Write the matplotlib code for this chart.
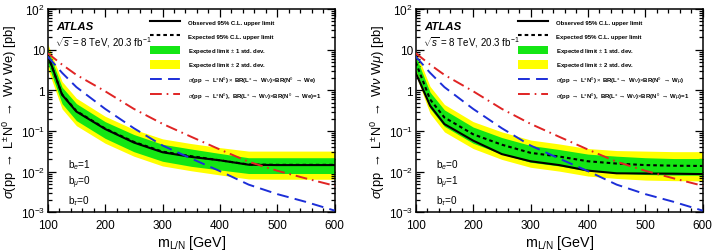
import math
import matplotlib
matplotlib.use("Agg")
import matplotlib.pyplot as plt
from matplotlib.lines import Line2D
from matplotlib.patches import Patch
from matplotlib.ticker import FixedLocator, MultipleLocator, FuncFormatter, LogLocator, NullFormatter

plt.rcParams['font.family'] = ['Liberation Sans', 'DejaVu Sans']
plt.rcParams['mathtext.fontset'] = 'custom'
plt.rcParams['mathtext.rm'] = 'Liberation Sans'
plt.rcParams['mathtext.it'] = 'Liberation Sans:italic'
plt.rcParams['mathtext.bf'] = 'Liberation Sans:bold'
plt.rcParams['mathtext.sf'] = 'Liberation Sans'
plt.rcParams['lines.scale_dashes'] = False

# ---------------- data ----------------
mass = [100, 125, 150, 200, 250, 300, 350, 400, 450, 500, 550, 600]

# electron channel (b_e = 1)
obs_e = [7.6, 0.78, 0.30, 0.112, 0.052, 0.030, 0.023, 0.019, 0.0148, 0.0145, 0.0145, 0.0145]
exp_e = [7.2, 0.80, 0.31, 0.115, 0.054, 0.031, 0.024, 0.019, 0.0150, 0.0147, 0.0147, 0.0147]
s1_hi_e = [10.5, 1.20, 0.47, 0.17, 0.082, 0.047, 0.036, 0.028, 0.022, 0.022, 0.022, 0.022]
s1_lo_e = [4.6, 0.47, 0.18, 0.066, 0.031, 0.018, 0.0135, 0.011, 0.0090, 0.0090, 0.0090, 0.0090]
s2_hi_e = [14.0, 1.65, 0.64, 0.23, 0.11, 0.064, 0.049, 0.039, 0.032, 0.032, 0.032, 0.032]
s2_lo_e = [3.4, 0.35, 0.135, 0.050, 0.024, 0.0138, 0.0105, 0.0083, 0.0066, 0.0065, 0.0065, 0.0065]

# muon channel (b_mu = 1)
obs_m = [2.7, 0.42, 0.148, 0.058, 0.027, 0.018, 0.0145, 0.0106, 0.0091, 0.0090, 0.0089, 0.0087]
exp_m = [4.9, 0.60, 0.215, 0.083, 0.046, 0.029, 0.0235, 0.018, 0.0158, 0.0145, 0.0140, 0.0138]
s1_hi_m = [7.0, 0.90, 0.33, 0.125, 0.069, 0.044, 0.035, 0.027, 0.024, 0.022, 0.021, 0.021]
s1_lo_m = [3.2, 0.36, 0.13, 0.050, 0.027, 0.017, 0.0138, 0.0105, 0.0092, 0.0085, 0.0082, 0.0082]
s2_hi_m = [9.5, 1.25, 0.45, 0.17, 0.095, 0.060, 0.048, 0.037, 0.033, 0.032, 0.031, 0.031]
s2_lo_m = [2.4, 0.27, 0.095, 0.037, 0.020, 0.0128, 0.0103, 0.0078, 0.0068, 0.0062, 0.0060, 0.0059]

# theory
xs_br = [6.8, 2.7, 1.2, 0.35, 0.117, 0.044, 0.021, 0.0103, 0.0048, 0.0028, 0.0018, 0.0011]
xs_br1 = [8.2, 4.3, 2.4, 0.95, 0.35, 0.15, 0.072, 0.035, 0.0175, 0.0105, 0.0068, 0.0045]

y_ticks = [1e-3, 1e-2, 1e-1, 1, 10, 100]

panels = [
    dict(obs=obs_e, exp=exp_e, s1h=s1_hi_e, s1l=s1_lo_e, s2h=s2_hi_e, s2l=s2_lo_e,
         lep='We', b=['b$_{e}$=1', 'b$_{\\mu}$=0', 'b$_{\\tau}$=0']),
    dict(obs=obs_m, exp=exp_m, s1h=s1_hi_m, s1l=s1_lo_m, s2h=s2_hi_m, s2l=s2_lo_m,
         lep='W$\\mu$', b=['b$_{e}$=0', 'b$_{\\mu}$=1', 'b$_{\\tau}$=0']),
]

GREEN = '#14e614'
YELLOW = '#ffff00'
BLUE = '#1c2ed8'
RED = '#e02424'

fig = plt.figure(figsize=(7.14, 2.51), dpi=100)
W, H = 714.0, 251.0
ax_left_px = [47.7, 415.7]
ax_w_px = 287.0
ax_top_px = 10.0
ax_bot_px = 213.3


def ylabfmt(v, pos):
    if abs(v - 1) < 1e-9:
        return '1'
    if abs(v - 10) < 1e-9:
        return '10'
    return '$10^{%d}$' % round(math.log10(v))


for i, p in enumerate(panels):
    ax = fig.add_axes([ax_left_px[i] / W, (H - ax_bot_px) / H, ax_w_px / W, (ax_bot_px - ax_top_px) / H])
    ax.set_yscale('log')
    ax.set_xlim(100, 600)
    ax.set_ylim(1e-3, 1e2)

    ax.fill_between(mass, p['s2l'], p['s2h'], color=YELLOW, lw=0, zorder=1)
    ax.fill_between(mass, p['s1l'], p['s1h'], color=GREEN, lw=0, zorder=2)
    ax.plot(mass, p['exp'], color='black', lw=1.5, dashes=(2.6, 2.2), zorder=3)
    ax.plot(mass, p['obs'], color='black', lw=1.5, zorder=4)
    ax.plot(mass, xs_br, color=BLUE, lw=1.4, dashes=(8.5, 4.5), zorder=5)
    ax.plot(mass, xs_br1, color=RED, lw=1.4, dashes=(8.5, 3.5, 1.2, 3.5), zorder=5)

    # ticks
    ax.xaxis.set_major_locator(MultipleLocator(100))
    ax.xaxis.set_minor_locator(MultipleLocator(20))
    ax.yaxis.set_major_locator(FixedLocator(y_ticks))
    ax.yaxis.set_minor_locator(LogLocator(base=10, subs=range(2, 10), numticks=20))
    ax.yaxis.set_minor_formatter(NullFormatter())
    ax.yaxis.set_major_formatter(FuncFormatter(ylabfmt))
    ax.tick_params(which='both', direction='in', top=True, right=True, labelsize=8.5, width=0.9)
    ax.tick_params(which='major', length=6)
    ax.tick_params(which='minor', length=3.2)
    ax.tick_params(axis='x', which='major', pad=5)
    ax.tick_params(axis='y', which='major', pad=2)
    for s in ax.spines.values():
        s.set_linewidth(1.1)

    ax.set_xlabel('m$_{\\mathrm{L/N}}$ [GeV]', fontsize=10.3, labelpad=1)
    ax.set_ylabel('$\\sigma$(pp $\\rightarrow$ L$^{\\pm}$N$^{0}$ $\\rightarrow$ W$\\nu$ ' + p['lep'] + ') [pb]',
                  fontsize=9.3, labelpad=1)

    # ATLAS labels
    ax.text(8.5 / ax_w_px, 1 - (27 - ax_top_px) / (ax_bot_px - ax_top_px), 'ATLAS',
            transform=ax.transAxes, fontsize=8.2, fontweight='bold', fontstyle='italic', va='center', ha='left')
    ax.text(7.5 / ax_w_px, 1 - (43 - ax_top_px) / (ax_bot_px - ax_top_px),
            '$\\sqrt{s}$ = 8 TeV, 20.3 fb$^{-1}$',
            transform=ax.transAxes, fontsize=7.0, va='center', ha='left')

    # b labels
    for txt, ypx in zip(p['b'], [165, 183, 201]):
        ax.text(20.5 / ax_w_px, 1 - (ypx - ax_top_px) / (ax_bot_px - ax_top_px), txt,
                transform=ax.transAxes, fontsize=7.2, va='center', ha='left')

    # legend
    lepN = 'We' if i == 0 else 'W$\\mu$'
    handles = [
        Line2D([], [], color='black', lw=1.5),
        Line2D([], [], color='black', lw=1.5, dashes=(2.6, 2.2)),
        Patch(facecolor=GREEN, edgecolor='none'),
        Patch(facecolor=YELLOW, edgecolor='none'),
        Line2D([], [], color=BLUE, lw=1.4, dashes=(8.5, 4.5)),
        Line2D([], [], color=RED, lw=1.4, dashes=(8.5, 3.5, 1.2, 3.5)),
    ]
    labels = [
        'Observed 95% C.L. upper limit',
        'Expected 95% C.L. upper limit',
        'Expected limit $\\pm$ 1 std. dev.',
        'Expected limit $\\pm$ 2 std. dev.',
        '$\\sigma$(pp $\\rightarrow$ L$^{\\pm}$N$^{0}$) $\\times$ BR(L$^{\\pm}\\rightarrow$ W$\\nu$)$\\times$BR(N$^{0}$ $\\rightarrow$ ' + lepN + ')',
        '$\\sigma$(pp $\\rightarrow$ L$^{\\pm}$N$^{0}$),  BR(L$^{\\pm}\\rightarrow$ W$\\nu$)$\\times$BR(N$^{0}$ $\\rightarrow$ ' + lepN + ')=1',
    ]
    fs = 4.3
    fpx = fs * 100 / 72.0
    leg = ax.legend(handles, labels, loc='upper left',
                    bbox_to_anchor=(102.0 / ax_w_px, 1 - (18.5 - ax_top_px) / (ax_bot_px - ax_top_px)),
                    frameon=False, borderpad=0, borderaxespad=0,
                    prop={'size': fs, 'weight': 'bold'},
                    handlelength=30 / fpx, handleheight=11 / fpx, handletextpad=8 / fpx,
                    labelspacing=5.4 / fpx)
    leg.set_zorder(10)

fig.savefig('out.png', dpi=100)
